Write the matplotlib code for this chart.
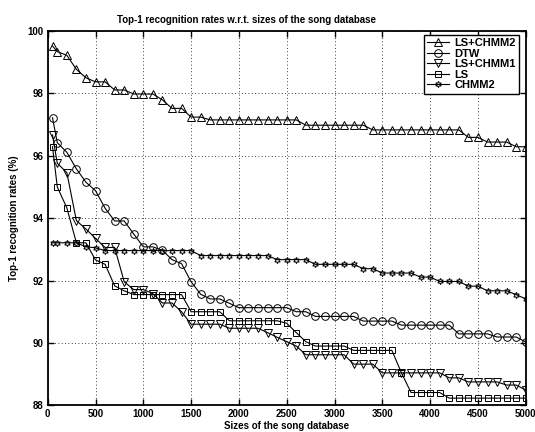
"""
Top-1 recognition rates w.r.t. sizes of the song database.
"""
import matplotlib
matplotlib.use('Agg')
from matplotlib import pyplot as plt

# database sizes (x axis)
sizes = [50, 100, 200, 300, 400, 500, 600, 700, 800, 900,
         1000, 1100, 1200, 1300, 1400, 1500, 1600, 1700, 1800, 1900,
         2000, 2100, 2200, 2300, 2400, 2500, 2600, 2700, 2800, 2900,
         3000, 3100, 3200, 3300, 3400, 3500, 3600, 3700, 3800, 3900,
         4000, 4100, 4200, 4300, 4400, 4500, 4600, 4700, 4800, 4900,
         5000]

ls_chmm2 = [99.52, 99.34, 99.22, 98.77, 98.50, 98.37, 98.37, 98.11, 98.11, 97.98,
            97.98, 97.98, 97.79, 97.52, 97.52, 97.24, 97.24, 97.15, 97.15, 97.15,
            97.15, 97.15, 97.15, 97.15, 97.15, 97.15, 97.15, 96.98, 96.98, 96.98,
            96.98, 96.98, 96.98, 96.98, 96.83, 96.83, 96.83, 96.83, 96.83, 96.83,
            96.83, 96.83, 96.83, 96.83, 96.59, 96.59, 96.44, 96.44, 96.44, 96.29,
            96.29]

dtw = [97.22, 96.42, 96.11, 95.58, 95.15, 94.88, 94.32, 93.91, 93.91, 93.49,
       93.08, 93.08, 92.97, 92.67, 92.54, 91.96, 91.56, 91.41, 91.41, 91.27,
       91.13, 91.13, 91.13, 91.13, 91.13, 91.13, 91.00, 91.00, 90.85, 90.85,
       90.85, 90.85, 90.85, 90.70, 90.70, 90.70, 90.70, 90.57, 90.57, 90.57,
       90.57, 90.57, 90.57, 90.29, 90.29, 90.29, 90.29, 90.19, 90.19, 90.19,
       90.03]

ls_chmm1 = [96.67, 95.76, 95.46, 93.92, 93.65, 93.35, 93.06, 93.06, 91.96, 91.71,
            91.71, 91.58, 91.28, 91.28, 91.00, 90.60, 90.60, 90.60, 90.60, 90.47,
            90.47, 90.47, 90.47, 90.33, 90.18, 90.04, 89.90, 89.62, 89.62, 89.62,
            89.62, 89.62, 89.32, 89.32, 89.32, 89.04, 89.04, 89.04, 89.04, 89.04,
            89.04, 89.04, 88.88, 88.88, 88.75, 88.75, 88.75, 88.75, 88.65, 88.65,
            88.49]

ls = [96.29, 95.00, 94.33, 93.21, 93.21, 92.66, 92.52, 91.83, 91.67, 91.55,
      91.55, 91.55, 91.55, 91.55, 91.55, 91.00, 91.00, 91.00, 91.00, 90.71,
      90.71, 90.71, 90.71, 90.71, 90.71, 90.63, 90.33, 90.04, 89.90, 89.90,
      89.90, 89.90, 89.76, 89.76, 89.76, 89.76, 89.76, 89.04, 88.41, 88.41,
      88.41, 88.41, 88.23, 88.23, 88.23, 88.23, 88.23, 88.23, 88.23, 88.23,
      88.23]

chmm2 = [93.21, 93.21, 93.21, 93.21, 93.08, 93.05, 92.96, 92.96, 92.96, 92.96,
         92.96, 92.96, 92.96, 92.96, 92.96, 92.96, 92.80, 92.80, 92.80, 92.80,
         92.80, 92.80, 92.80, 92.80, 92.67, 92.67, 92.67, 92.67, 92.52, 92.52,
         92.52, 92.52, 92.52, 92.38, 92.38, 92.24, 92.24, 92.24, 92.24, 92.11,
         92.11, 91.97, 91.97, 91.97, 91.82, 91.82, 91.67, 91.67, 91.67, 91.55,
         91.41]

x_ticks = [0, 500, 1000, 1500, 2000, 2500, 3000, 3500, 4000, 4500, 5000]
y_ticks = [88, 90, 92, 94, 96, 98, 100]

plt.rcParams['font.family'] = ['Liberation Sans', 'DejaVu Sans']
plt.rcParams['font.weight'] = 'bold'

fig = plt.figure(figsize=(5.35, 4.32), dpi=100)
ax = fig.add_axes([0.0892, 0.0618, 0.8935, 0.8664])

# series: (data, label, marker, size)
series = [
    (ls_chmm2, 'LS+CHMM2', '^', 5.2),
    (dtw, 'DTW', 'o', 5.5),
    (ls_chmm1, 'LS+CHMM1', 'v', 5.2),
    (ls, 'LS', 's', 4.3),
    (chmm2, 'CHMM2', (6, 1, 0), 4.5),
]
for values, label, marker, msize in series:
    ax.plot(sizes, values, color='black', linewidth=0.8, marker=marker,
            markersize=msize, markerfacecolor='none', markeredgecolor='black',
            markeredgewidth=0.7, label=label)

ax.set_xlim(0, 5000)
ax.set_ylim(88, 100)
ax.set_xticks(x_ticks)
ax.set_yticks(y_ticks)
ax.tick_params(direction='in', length=4, width=1.0, labelsize=7, pad=3,
               top=True, right=True)
for lab in ax.get_xticklabels() + ax.get_yticklabels():
    lab.set_fontweight('bold')
for spine in ax.spines.values():
    spine.set_linewidth(1.3)

ax.grid(True, color='black', linestyle=(0, (1, 3)), linewidth=0.6)

ax.set_title('Top-1 recognition rates w.r.t. sizes of the song database',
             fontsize=7, fontweight='bold', x=0.415, pad=6)
ax.set_xlabel('Sizes of the song database', fontsize=7, fontweight='bold',
              labelpad=1)
ax.set_ylabel('Top-1 recognition rates (%)', fontsize=7, fontweight='bold',
              labelpad=6)

leg = ax.legend(loc='upper right', bbox_to_anchor=(0.986, 0.99), fontsize=8,
                fancybox=False, framealpha=1, edgecolor='black',
                handlelength=2.0, handletextpad=0.45, labelspacing=0.05,
                borderpad=0.3, borderaxespad=0)
leg.get_frame().set_linewidth(1.0)
for txt in leg.get_texts():
    txt.set_fontweight('bold')

fig.savefig('out.png', dpi=100)
